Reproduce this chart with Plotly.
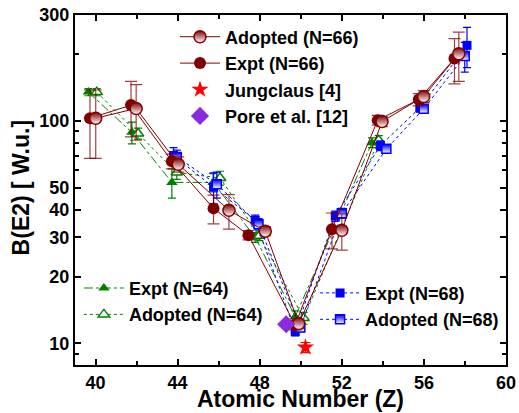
import plotly.graph_objects as go
import numpy as np

# ---------------- data ----------------
# N=66 (dark red)
z66_expt = [39.73, 41.73, 43.72, 45.75, 47.45, 49.73, 51.52, 53.75, 55.75, 57.49]
b66_expt = [103, 118, 66, 40.5, 30.7, 12.1, 32.6, 101, 125, 191]
e66_expt = [35, 33, 5, 6, 1.5, 0.6, 6, 5, 8, 44]

z66_adopt = [40.01, 41.98, 44.03, 46.5, 48.27, 49.9, 52.0, 53.96, 55.99, 57.7]
b66_adopt = [103, 114, 64, 39.7, 32, 12.3, 32.3, 99.5, 129, 201]
e66_adopt = [35, 32, 5, 7, 1.5, 0.6, 6, 5, 8, 50]

# N=64 (green)
z64_expt = [39.65, 41.77, 43.72, 45.73, 47.78, 49.73, 53.47]
b64_expt = [135, 89, 53, 53, 30, 13.2, 80]
e64_expt = [5, 10, 8, 5, 1.5, 0.8, 4]

z64_adopt = [40.06, 42.07, 43.96, 46.07, 47.98, 50.14, 53.8]
b64_adopt = [135, 88, 58.7, 55.5, 30.5, 13.0, 82]
e64_adopt = [5, 5, 4, 4, 1.5, 0.8, 4]

# N=68 (blue)
z68_expt = [43.8, 45.75, 47.78, 49.73, 51.68, 53.88, 55.8, 58.1]
b68_expt = [70, 50.5, 35.8, 11.3, 37.4, 77.6, 114.8, 219]
e68_expt = [6, 8, 2, 0.5, 2, 4, 5, 45]

z68_adopt = [43.96, 45.91, 47.94, 49.98, 52.0, 54.17, 55.99, 57.99]
b68_adopt = [69, 52, 34.4, 11.8, 38.5, 75, 113.6, 196]
e68_adopt = [5, 7, 2, 0.5, 2, 3, 4, 30]

# other references
z_jung = [50.23]
b_jung = [9.6]
e_jung = [0.5]

z_pore = [49.29]
b_pore = [12.2]

y_tickvals = [10, 20, 30, 40, 50, 100, 300]
y_minor = [9, 60, 70, 80, 90, 200]
x_tickvals = [40, 44, 48, 52, 56, 60]

# ---------------- styles ----------------
DRED = "#800000"
GREEN = "#008000"
BLUE = "#0000FF"
FONT = "Liberation Sans, Arial, sans-serif"

fig = go.Figure()


def err(vals, color, width=4, thick=1.2):
    return dict(type="data", array=vals, visible=True, color=color,
                thickness=thick, width=width)


# green N=64
fig.add_trace(go.Scatter(
    x=z64_expt, y=b64_expt, name="Expt (N=64)", legend="legend2", legendrank=1,
    mode="lines+markers",
    line=dict(color=GREEN, width=1, dash="dashdot"),
    marker=dict(symbol="triangle-up", size=10, color=GREEN),
    error_y=err(e64_expt, GREEN)))
fig.add_trace(go.Scatter(
    x=z64_adopt, y=b64_adopt, name="Adopted (N=64)", legend="legend2", legendrank=2,
    mode="lines+markers",
    line=dict(color=GREEN, width=1, dash="dot"),
    marker=dict(symbol="triangle-up", size=10, color="white",
                line=dict(color=GREEN, width=1.5)),
    error_y=err(e64_adopt, GREEN)))

# blue N=68
fig.add_trace(go.Scatter(
    x=z68_expt, y=b68_expt, name="Expt (N=68)", legend="legend3", legendrank=1,
    mode="lines+markers",
    line=dict(color=BLUE, width=1, dash="dot"),
    marker=dict(symbol="square", size=9, color=BLUE),
    error_y=err(e68_expt, BLUE)))
fig.add_trace(go.Scatter(
    x=z68_adopt, y=b68_adopt, name="Adopted (N=68)", legend="legend3", legendrank=2,
    mode="lines+markers",
    line=dict(color=BLUE, width=1, dash="dot"),
    marker=dict(symbol="square", size=9, color=BLUE,
                gradient=dict(type="vertical", color="white"),
                line=dict(color=BLUE, width=1.5)),
    error_y=err(e68_adopt, BLUE)))

# dark red N=66
fig.add_trace(go.Scatter(
    x=z66_expt, y=b66_expt, name="Expt (N=66)", legend="legend", legendrank=2,
    mode="lines+markers",
    line=dict(color=DRED, width=1),
    marker=dict(symbol="circle", size=12, color=DRED),
    error_y=err(e66_expt, "rgba(128,0,0,0.75)", width=6)))
fig.add_trace(go.Scatter(
    x=z66_adopt, y=b66_adopt, name="Adopted (N=66)", legend="legend", legendrank=1,
    mode="lines+markers",
    line=dict(color=DRED, width=1),
    marker=dict(symbol="circle", size=12, color=DRED,
                gradient=dict(type="vertical", color="white"),
                line=dict(color=DRED, width=1.5)),
    error_y=err(e66_adopt, "rgba(128,0,0,0.75)", width=6)))

# references
fig.add_trace(go.Scatter(
    x=z_jung, y=b_jung, name="Jungclaus [4]", legend="legend", legendrank=3,
    mode="markers",
    marker=dict(symbol="star", size=13, color="#FF0000"),
    error_y=err(e_jung, "#FF0000", width=5)))
fig.add_trace(go.Scatter(
    x=z_pore, y=b_pore, name="Pore et al. [12]", legend="legend", legendrank=4,
    mode="markers",
    marker=dict(symbol="diamond", size=14, color="#8A2BE2")))

legend_common = dict(font=dict(family=FONT, size=18, color="black", weight="bold"),
                     bgcolor="rgba(0,0,0,0)", borderwidth=0, itemwidth=40,
                     xanchor="left", yanchor="top", traceorder="normal")

fig.update_layout(
    width=519, height=413,
    margin=dict(l=75, r=13, t=15, b=48, autoexpand=False),
    paper_bgcolor="white", plot_bgcolor="white",
    font=dict(family=FONT, color="black"),
    legend=dict(x=0.232, y=0.99, **legend_common),
    legend2=dict(x=0.009, y=0.272, **legend_common),
    legend3=dict(x=0.557, y=0.258, **legend_common),
    xaxis=dict(
        range=[39, 60], tickmode="array", tickvals=x_tickvals,
        ticks="inside", ticklen=6, tickwidth=1.5, tickcolor="black",
        showline=True, linecolor="black", linewidth=2, mirror="ticks",
        showgrid=False, zeroline=False, automargin=False,
        minor=dict(tickmode="linear", tick0=40, dtick=2, ticks="inside",
                   ticklen=4, tickwidth=1.5, tickcolor="black", showgrid=False),
        tickfont=dict(family=FONT, size=18, weight="bold"),
    ),
    yaxis=dict(
        type="log", range=[np.log10(8), np.log10(300)],
        tickmode="array", tickvals=y_tickvals, ticktext=[str(v) for v in y_tickvals],
        ticks="inside", ticklen=6, tickwidth=1.5, tickcolor="black",
        showline=True, linecolor="black", linewidth=2, mirror="ticks",
        showgrid=False, zeroline=False, automargin=False,
        minor=dict(tickmode="array", tickvals=y_minor, ticks="inside",
                   ticklen=4, tickwidth=1.5, tickcolor="black", showgrid=False),
        tickfont=dict(family=FONT, size=18, weight="bold"),
    ),
    annotations=[
        dict(text="Atomic Number (Z)", xref="paper", yref="paper", x=0.524, y=0,
             xanchor="center", yanchor="top", yshift=-19, showarrow=False,
             font=dict(family=FONT, size=23, weight="bold", color="black")),
        dict(text="B(E2) [ W.u.]", xref="paper", yref="paper", x=-0.125, y=0.505,
             xanchor="center", yanchor="middle", textangle=-90, showarrow=False,
             font=dict(family=FONT, size=23, weight="bold", color="black")),
    ],
)

fig.write_html("out.html", config={"displayModeBar": False},
               post_script="document.body.style.margin='0px';")
